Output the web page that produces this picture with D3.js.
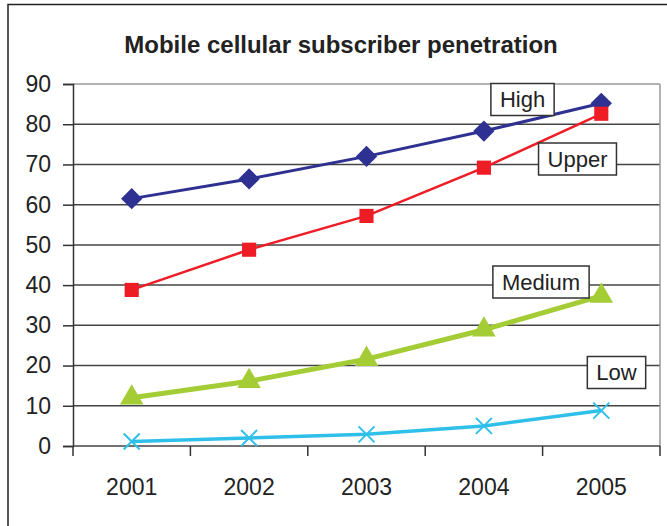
<!DOCTYPE html>
<meta charset="utf-8">
<script src="https://cdn.jsdelivr.net/npm/d3@7"></script>
<style>
  body { margin: 0; background: #fff; }
  text { font-family: "Liberation Sans", Arial, sans-serif; fill: #222; }
</style>
<svg id="graph" width="667" height="526"></svg>
<script>

// data
var years = ["2001", "2002", "2003", "2004", "2005"];
var high   = [61.5, 66.4, 72.0, 78.3, 85.2];
var upper  = [38.8, 48.8, 57.2, 69.2, 82.6];
var medium = [12.0, 16.1, 21.6, 28.9, 37.3];
var low    = [1.1, 2.0, 2.9, 5.0, 8.8];
var yTicks = [0, 10, 20, 30, 40, 50, 60, 70, 80, 90];

var series = [
  {name: "High",   values: high,   color: "#2e3192", width: 3,   marker: "diamond"},
  {name: "Upper",  values: upper,  color: "#ee1c25", width: 2.5, marker: "square"},
  {name: "Medium", values: medium, color: "#a4cc35", width: 5,   marker: "triangle"},
  {name: "Low",    values: low,    color: "#2fc0ea", width: 3.5, marker: "cross"}
];

// where the name boxes sit (centre, px)
var boxPos = {
  High:   {cx: 522.5, cy: 99.5},
  Upper:  {cx: 577.5, cy: 159},
  Medium: {cx: 541,   cy: 282},
  Low:    {cx: 616.5, cy: 372.5}
};

var svg = d3.select("#graph");
var pLeft = 73, pRight = 660, pTop = 84, pBottom = 446;

// outer frame
svg.append("rect")
    .attr("x", 8).attr("y", 4.5)
    .attr("width", 680).attr("height", 540)
    .attr("fill", "none").attr("stroke", "#222").attr("stroke-width", 1.5);

svg.append("text")
    .attr("x", 341).attr("y", 53)
    .attr("text-anchor", "middle")
    .style("font-weight", "bold").style("font-size", "24px")
    .text("Mobile cellular subscriber penetration");

var x = d3.scaleBand().domain(years).range([pLeft, pRight]);
var y = d3.scaleLinear().domain([0, 90]).range([pBottom, pTop]);
var cx = function(d) { return x(d) + x.bandwidth() / 2; };

var g = svg.append("g");

// grid lines
g.selectAll(".grid")
  .data(yTicks.filter(function(d) { return d > 0; }))
  .enter().append("line")
    .attr("x1", pLeft).attr("x2", pRight)
    .attr("y1", function(d) { return y(d); })
    .attr("y2", function(d) { return y(d); })
    .attr("stroke", function(d) { return d == 90 ? "#999" : "#444"; })
    .attr("stroke-width", 1.5);

// right border of plot
g.append("line")
    .attr("x1", pRight).attr("x2", pRight)
    .attr("y1", pTop).attr("y2", pBottom)
    .attr("stroke", "#999").attr("stroke-width", 1.5);

// y axis
var yAxis = g.append("g")
    .attr("transform", "translate(" + pLeft + ",0)")
    .call(d3.axisLeft(y).tickValues(yTicks).tickSize(10).tickPadding(12));
yAxis.attr("font-family", null).attr("font-size", null);
yAxis.select(".domain").attr("stroke", "#333").attr("stroke-width", 1.5);
yAxis.selectAll(".tick line").attr("stroke", "#333").attr("stroke-width", 1.5);
yAxis.selectAll("text").style("font-size", "23px").attr("fill", "#222");

// x axis: labels in band centres, ticks on band edges
var xAxis = g.append("g")
    .attr("transform", "translate(0," + pBottom + ")")
    .call(d3.axisBottom(x).tickSize(0).tickPadding(33));
xAxis.attr("font-family", null).attr("font-size", null);
xAxis.select(".domain").remove();
xAxis.selectAll("text").style("font-size", "23px").attr("fill", "#222");

var edges = years.map(function(d) { return x(d); }).concat([x(years[years.length - 1]) + x.bandwidth()]);
g.append("line")
    .attr("x1", pLeft).attr("x2", pRight)
    .attr("y1", pBottom).attr("y2", pBottom)
    .attr("stroke", "#444").attr("stroke-width", 1.5);
g.selectAll(".xtick")
  .data(edges)
  .enter().append("line")
    .attr("x1", function(d) { return d; }).attr("x2", function(d) { return d; })
    .attr("y1", pBottom).attr("y2", pBottom + 10)
    .attr("stroke", "#333").attr("stroke-width", 1.5);

// lines and markers
var line = d3.line()
    .x(function(d, i) { return cx(years[i]); })
    .y(function(d) { return y(d); });

var sym = {
  diamond:  d3.symbol().type(d3.symbolDiamond2).size(290),
  square:   d3.symbol().type(d3.symbolSquare).size(200),
  triangle: d3.symbol().type(d3.symbolTriangle).size(240)
};

series.forEach(function(s) {
  g.append("path")
      .attr("d", line(s.values))
      .attr("fill", "none")
      .attr("stroke", s.color)
      .attr("stroke-width", s.width);

  var pts = g.selectAll(null).data(s.values).enter().append("g")
      .attr("transform", function(d, i) {
        return "translate(" + cx(years[i]) + "," + y(d) + ")";
      });

  if (s.marker == "cross") {
    pts.append("path")
        .attr("d", "M-8,-8L8,8M-8,8L8,-8")
        .attr("stroke", s.color).attr("stroke-width", 2);
  } else {
    pts.append("path")
        .attr("d", sym[s.marker]())
        .attr("fill", s.color);
  }
});

// name boxes
series.forEach(function(s) {
  var p = boxPos[s.name];
  var lab = svg.append("g").attr("transform", "translate(" + p.cx + "," + p.cy + ")");
  var rect = lab.append("rect").attr("fill", "#fff").attr("stroke", "#333").attr("stroke-width", 1.5);
  var t = lab.append("text")
      .attr("text-anchor", "middle")
      .attr("dy", "0.36em")
      .style("font-size", "22px")
      .text(s.name);
  var w = t.node().getComputedTextLength() + 18;
  rect.attr("x", -w / 2).attr("y", -16).attr("width", w).attr("height", 32);
});

</script>
